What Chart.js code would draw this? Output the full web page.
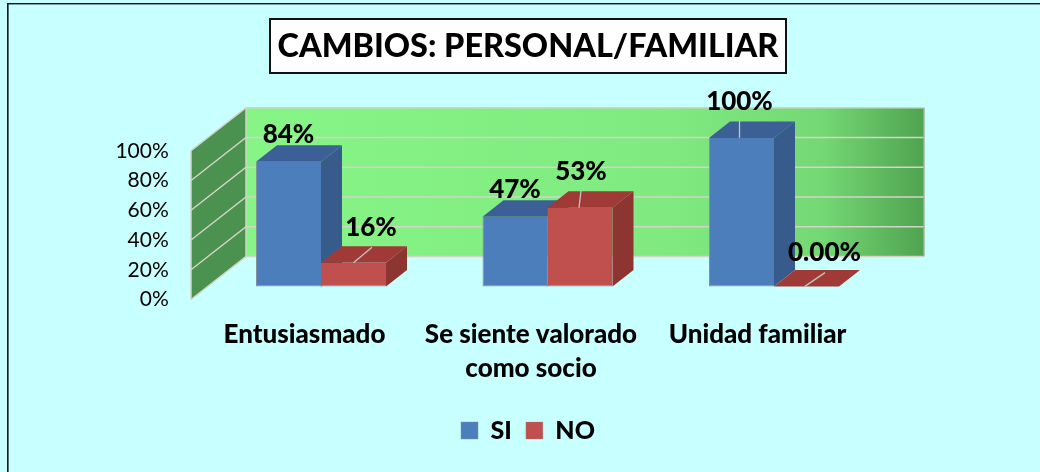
<!DOCTYPE html>
<html><head><meta charset="utf-8">
<style>html,body{margin:0;padding:0;background:#c8ffff}canvas{display:block}</style>
<script src="https://cdn.jsdelivr.net/npm/chart.js@4/dist/chart.umd.min.js"></script>
</head><body><div style="width:1040px;height:472px;position:relative"><canvas id="c" width="1040" height="472"></canvas></div>
<script>
const titleText = 'CAMBIOS: PERSONAL/FAMILIAR';
const categories = ['Entusiasmado', ['Se siente valorado', 'como socio'], 'Unidad familiar'];
const seriesNames = ['SI', 'NO'];
const siValues = [84, 47, 100];
const noValues = [16, 53, 0];
const tickValues = [0, 20, 40, 60, 80, 100];

const FONT = 'Lato, "Open Sans", sans-serif';
const BLUE = '#4c7ebc', RED = '#c0504d';
const SIDE = ['#375c8c', '#8d3531'], TOP = ['#3c5f96', '#a03a37'];
const WALL = {dx: 55, dy: -43}, BAR = {dx: 21, dy: -16.5};
const SHIFT = { // label placement relative to the bar's front-top centre, [dx, dy, hasLeader]
  '0:0': [0, -27, 0], '0:1': [0, -27.5, 0], '0:2': [-2, -36.5, 1],
  '1:0': [17.5, -35, 1], '1:1': [1, -36.5, 1], '1:2': [18, -34, 1]
};
const LEADER = {'1:0': [0, 18.5, -15.5], '1:1': [-1, 2, -17], '0:2': [-2, 0, -17], '1:2': [-2, 20.5, -14]};

function poly(ctx, pts, fill) {
  ctx.beginPath();
  pts.forEach((p, i) => i ? ctx.lineTo(p[0], p[1]) : ctx.moveTo(p[0], p[1]));
  ctx.closePath();
  ctx.fillStyle = fill;
  ctx.fill();
}

const scene = {
  id: 'scene',
  beforeDraw(chart) {
    const {ctx, width, height, titleBlock: t} = chart;
    ctx.save();
    ctx.fillStyle = '#c8ffff';
    ctx.fillRect(0, 0, width, height);
    ctx.fillStyle = '#111';
    ctx.fillRect(7, 3, 1.6, height);
    ctx.fillRect(7, 3, width, 1.4);
    const cx = (t.left + t.right) / 2;
    ctx.fillStyle = '#fff';
    ctx.fillRect(cx - 258, 19, 516, 54);
    ctx.strokeStyle = '#111';
    ctx.lineWidth = 2;
    ctx.strokeRect(cx - 258, 19, 516, 54);
    ctx.restore();
  },
  beforeDatasetsDraw(chart) {
    const {ctx, scales: {y, x}} = chart;
    const y0 = y.getPixelForValue(0), y100 = y.getPixelForValue(100);
    const fx = 191, bx = fx + WALL.dx, rx = 924;
    const by0 = y0 + WALL.dy, by100 = y100 + WALL.dy;
    ctx.save();
    const g = ctx.createLinearGradient(bx, 0, rx, 0);
    g.addColorStop(0, '#86f586');
    g.addColorStop(0.62, '#80ea80');
    g.addColorStop(0.85, '#74d874');
    g.addColorStop(1, '#50a350');
    poly(ctx, [[bx, by100], [rx, by100], [rx, by0], [bx, by0]], g);
    poly(ctx, [[fx, y100], [bx, by100], [bx, by0], [fx, y0]], '#4b914f');
    ctx.strokeStyle = '#d2d4c8';
    ctx.lineWidth = 1.5;
    tickValues.forEach(v => {
      const p = y.getPixelForValue(v);
      ctx.beginPath();
      ctx.moveTo(fx, p);
      ctx.lineTo(bx, p + WALL.dy);
      ctx.lineTo(rx, p + WALL.dy);
      ctx.stroke();
    });
    ctx.beginPath();
    ctx.moveTo(fx, y100);
    ctx.lineTo(fx, y0);
    ctx.moveTo(bx, by100);
    ctx.lineTo(bx, by0);
    ctx.stroke();
    ctx.strokeStyle = '#a9b0a0';
    ctx.beginPath();
    ctx.moveTo(rx, by100);
    ctx.lineTo(rx, by0);
    ctx.stroke();
    // depth faces of the bars, behind the library's front faces
    chart.data.datasets.forEach((ds, d) => {
      chart.getDatasetMeta(d).data.forEach(b => {
        const l = b.x - b.width / 2, r = b.x + b.width / 2;
        poly(ctx, [[r, b.y], [r + BAR.dx, b.y + BAR.dy], [r + BAR.dx, b.base + BAR.dy], [r, b.base]], SIDE[d]);
        poly(ctx, [[l, b.y], [l + BAR.dx, b.y + BAR.dy], [r + BAR.dx, b.y + BAR.dy], [r, b.y]], TOP[d]);
      });
    });
    ctx.restore();
  },
  afterDatasetsDraw(chart) {
    const {ctx} = chart;
    ctx.save();
    chart.data.datasets.forEach((ds, d) => {
      chart.getDatasetMeta(d).data.forEach((b, i) => {
        const key = d + ':' + i, s = SHIFT[key], ln = LEADER[key];
        if (ln) {
          ctx.strokeStyle = '#c4c4bc';
          ctx.lineWidth = 1.3;
          ctx.beginPath();
          ctx.moveTo(b.x + ln[0], b.y);
          ctx.lineTo(b.x + ln[0] + ln[1], b.y + ln[2]);
          ctx.stroke();
        }
        const v = ds.data[i];
        ctx.font = '900 26px ' + FONT;
        ctx.fillStyle = '#000';
        ctx.textAlign = 'center';
        ctx.textBaseline = 'middle';
        ctx.fillText(v === 0 ? '0.00%' : v + '%', b.x + s[0], b.y + s[1]);
      });
    });
    ctx.restore();
  }
};

const PX_PER_UNIT = 1.5, AREA_H = 163, BAR_LIFT = 13;
new Chart(document.getElementById('c'), {
  type: 'bar',
  data: {
    labels: categories,
    datasets: [
      {label: seriesNames[0], data: siValues, backgroundColor: BLUE, borderColor: '#84919f', borderWidth: {left: 1, bottom: 1}, borderSkipped: false, yAxisID: 'bars'},
      {label: seriesNames[1], data: noValues, backgroundColor: RED, borderColor: '#84919f', borderWidth: {bottom: 1}, borderSkipped: false, yAxisID: 'bars'}
    ]
  },
  options: {
    responsive: false,
    animation: false,
    layout: {padding: {left: 16, right: 0, top: 0, bottom: 19}},
    categoryPercentage: 0.574,
    barPercentage: 1,
    scales: {
      x: {
        grid: {display: false},
        border: {display: false},
        afterFit: s => { s.height = 104.5; },
        ticks: {autoSkip: false, maxRotation: 0, minRotation: 0, padding: 10, labelOffset: -16.5,
          color: '#000', font: {family: FONT, size: 26, weight: '900', lineHeight: 1.31}}
      },
      y: {
        min: 0, max: AREA_H / PX_PER_UNIT,
        grid: {display: false},
        border: {display: false},
        afterFit: s => { s.width = 191.75; },
        afterBuildTicks: s => { s.ticks = tickValues.map(v => ({value: v})); },
        ticks: {padding: 31, color: '#000', font: {family: FONT, size: 21}, callback: v => v + '%'}
      },
      bars: {
        position: 'right',
        min: -BAR_LIFT / PX_PER_UNIT, max: (AREA_H - BAR_LIFT) / PX_PER_UNIT,
        grid: {display: false},
        border: {display: false},
        ticks: {display: false},
        afterFit: s => { s.width = 152.75; }
      }
    },
    plugins: {
      tooltip: {enabled: false},
      title: {display: true, text: titleText, color: '#000',
        font: {family: FONT, size: 32.4, weight: '900', lineHeight: 1.2},
        padding: {top: 27, bottom: 72}},
      legend: {position: 'bottom',
        labels: {boxWidth: 17, boxHeight: 17, padding: 14, color: '#000',
          font: {family: FONT, size: 25, weight: '900'}}}
    }
  },
  plugins: [scene]
});
</script></body></html>
